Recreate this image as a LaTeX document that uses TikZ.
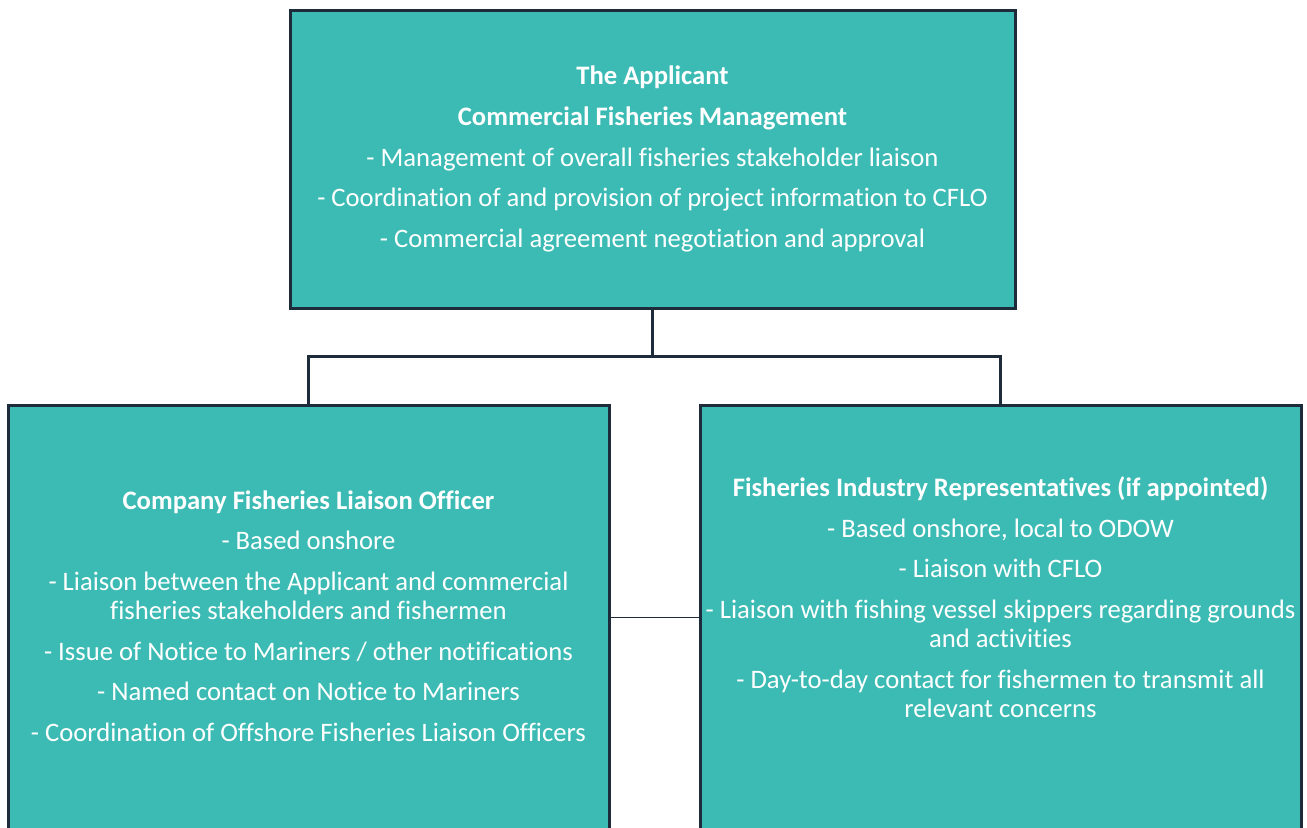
\documentclass[tikz,border=0pt]{standalone}
\usepackage{fontspec}
\setmainfont{Carlito}[Ligatures=NoCommon]
\usepackage{tikz}
\usetikzlibrary{positioning}
\definecolor{tealbox}{HTML}{3CBBB4}
\definecolor{edge}{HTML}{1E2B3A}

\begin{document}
\begin{tikzpicture}[x=0.75pt,y=-0.75pt,
    box/.style={draw=edge,fill=tealbox,line width=2.25pt,inner sep=0pt},
    txt/.style={text=white,align=center,inner sep=0pt,
      font=\fontsize{20pt}{21.75pt}\selectfont},
    link/.style={draw=edge,line width=2.25pt}]
  \clip (0,0) rectangle (1307,828);
  \node[box,minimum width=543.75pt,minimum height=223.5pt] (A)  at (652.5,159)   {};
  \node[box,minimum width=450.75pt,minimum height=318.75pt] (C) at (308.5,617.5) {};
  \node[box,minimum width=450.75pt,minimum height=318.75pt] (F) at (1000.5,617.5) {};
  \node[txt] (At) at (652.5,159) {\textbf{The Applicant}\\[8.75pt]
    \textbf{Commercial Fisheries Management}\\[8.75pt]
    - Management of overall fisheries stakeholder liaison\\[8.75pt]
    - Coordination of and provision of project information to CFLO\\[8.75pt]
    - Commercial agreement negotiation and approval};
  \node[txt] (Ct) at (308.5,616) {\textbf{Company Fisheries Liaison Officer}\\[8.75pt]
    - Based onshore\\[8.75pt]
    - Liaison between the Applicant and commercial\\
    fisheries stakeholders and fishermen\\[8.75pt]
    - Issue of Notice to Mariners / other notifications\\[8.75pt]
    - Named contact on Notice to Mariners\\[8.75pt]
    - Coordination of Offshore Fisheries Liaison Officers};
  \node[txt] (Ft) at (1000.5,597) {\textbf{Fisheries Industry Representatives (if appointed)}\\[8.75pt]
    - Based onshore, local to ODOW\\[8.75pt]
    - Liaison with CFLO\\[8.75pt]
    - Liaison with fishing vessel skippers regarding grounds\\
    and activities\\[8.75pt]
    - Day-to-day contact for fishermen to transmit all\\
    relevant concerns};
  \path[link]
    (A.south) -- ++(0,47) coordinate (split)
    (split) -| (C.north)
    (split) -| (F.north);
  \draw[edge,line width=1.1pt] (C.east) -- (F.west);
\end{tikzpicture}
\end{document}
